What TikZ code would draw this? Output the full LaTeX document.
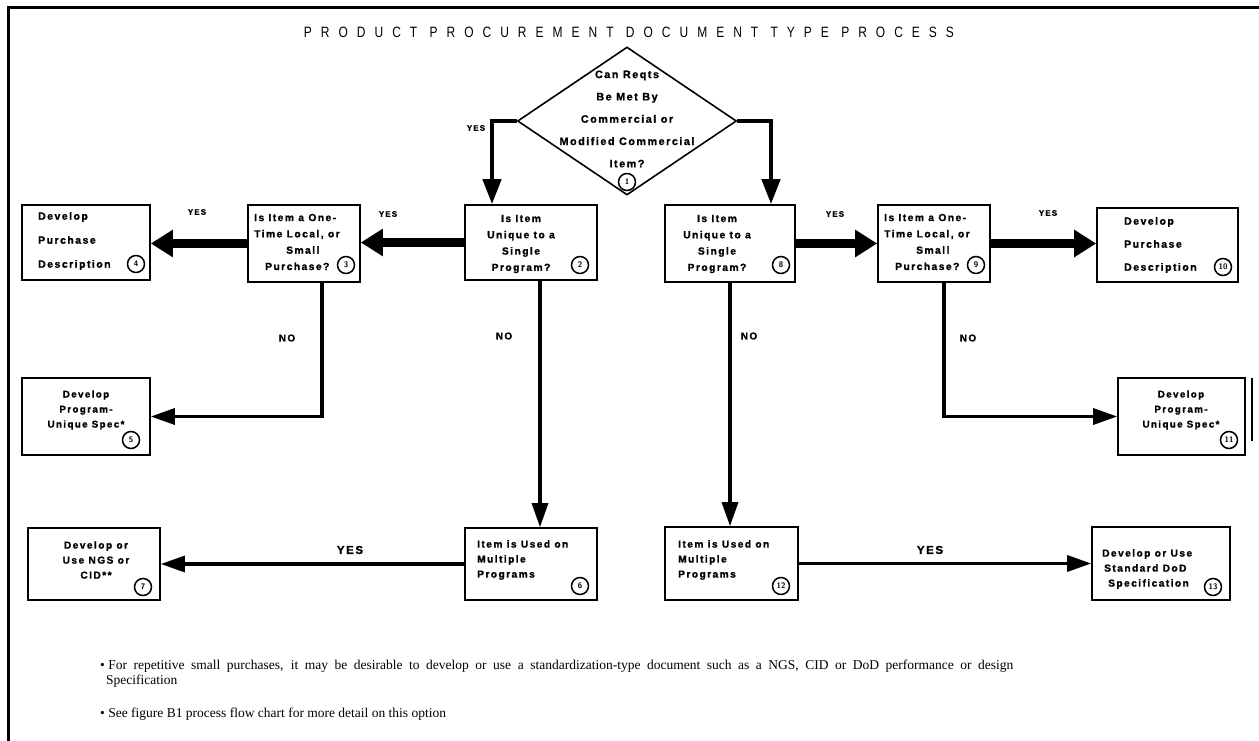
\documentclass[tikz,border=0pt]{standalone}
\usepackage{fontspec}
\setmainfont{Liberation Serif}
\newfontfamily\titlefont[LetterSpace=60,FakeStretch=0.8]{Liberation Sans}
\newfontfamily\boxfont[LetterSpace=14,BoldFeatures={FakeBold=1.2}]{Liberation Sans}
\usetikzlibrary{arrows.meta,shapes.geometric,calc}
\tikzset{
  box/.style={draw, line width=1.6pt, rectangle, inner sep=0pt},
  btext/.style={inner sep=0pt, font=\boxfont\bfseries\fontsize{10.3}{16.3}\selectfont},
  num/.style={draw, circle, line width=1.5pt, minimum size=17pt, inner sep=0pt, font=\sffamily\bfseries\fontsize{8}{8}\selectfont},
  fatarrow/.style={line width=9pt, -{Triangle[length=22pt,width=26pt]}},
  thinarrow/.style={line width=3.2pt, line join=miter, -{Triangle[length=24pt,width=16pt]}},
  darrow/.style={line width=4.5pt, line join=miter, -{Triangle[length=25pt,width=18pt]}},
  smallyes/.style={inner sep=0pt, font=\boxfont\bfseries\fontsize{8}{8}\selectfont},
  bigyes/.style={inner sep=0pt, font=\boxfont\bfseries\fontsize{11.5}{12}\selectfont},
  nolabel/.style={inner sep=0pt, font=\boxfont\bfseries\fontsize{10}{10}\selectfont},
  foot/.style={inner sep=0pt, font=\fontsize{13.5}{15}\selectfont}
}
\begin{document}
\begin{tikzpicture}[x=1pt,y=-1pt]
\useasboundingbox (0,0) rectangle (1259,741);
% frame
\draw[line width=3pt] (8,741) -- (8,8) -- (1259,8);
\draw[line width=2pt] (1252,378) -- (1252,441);
% title
\node[inner sep=0pt, font=\titlefont\fontsize{15}{15}\selectfont] (title) at (629,32) {PRODUCT PROCUREMENT DOCUMENT TYPE PROCESS};
% diamond
\node[diamond, draw, line width=1.6pt, minimum width=219pt, minimum height=148pt, inner sep=0pt] (d) at (627,121) {};
\node[btext, align=center, font=\boxfont\bfseries\fontsize{10.8}{22.3}\selectfont] (dt) at (627,119) {Can Reqts\\Be Met By\\Commercial or\\Modified Commercial\\Item?};
\node[num] (c1) at (627,182) {1};
% boxes
\node[box, minimum width=128pt, minimum height=75pt] (b4) at (86,242.5) {};
\node[box, minimum width=112pt, minimum height=77pt] (b3) at (304,243.5) {};
\node[box, minimum width=132pt, minimum height=75pt] (b2) at (531,242.5) {};
\node[box, minimum width=130pt, minimum height=77pt] (b8) at (730,243.5) {};
\node[box, minimum width=112pt, minimum height=77pt] (b9) at (934,243.5) {};
\node[box, minimum width=141pt, minimum height=74pt] (b10) at (1167.5,245) {};
\node[box, minimum width=128pt, minimum height=77pt] (b5) at (86,416.5) {};
\node[box, minimum width=127pt, minimum height=77pt] (b11) at (1181.5,416.5) {};
\node[box, minimum width=132pt, minimum height=72pt] (b7) at (94,564) {};
\node[box, minimum width=132pt, minimum height=72pt] (b6) at (531,564) {};
\node[box, minimum width=133pt, minimum height=73pt] (b12) at (731.5,563.5) {};
\node[box, minimum width=138pt, minimum height=73pt] (b13) at (1161,563.5) {};
% box texts
\node[btext, align=left, anchor=west, font=\boxfont\bfseries\fontsize{10.5}{24}\selectfont] (t4) at (38,241) {Develop\\Purchase\\Description};
\node[num] (c4) at (136,264) {4};
\node[btext, align=left, anchor=west] (t3) at (254,242) {Is Item a One-\\Time Local, or\\\hspace*{32pt}Small\\\hspace*{11pt}Purchase?};
\node[num] (c3) at (346,265) {3};
\node[btext, align=center] (t2) at (521,244) {Is Item\\Unique to a\\Single\\Program?};
\node[num] (c2) at (580,265) {2};
\node[btext, align=center] (t8) at (717,244) {Is Item\\Unique to a\\Single\\Program?};
\node[num] (c8) at (781,265) {8};
\node[btext, align=left, anchor=west] (t9) at (884,242) {Is Item a One-\\Time Local, or\\\hspace*{32pt}Small\\\hspace*{11pt}Purchase?};
\node[num] (c9) at (976,265) {9};
\node[btext, align=left, anchor=west, font=\boxfont\bfseries\fontsize{10.5}{23}\selectfont] (t10) at (1124,245) {Develop\\Purchase\\Description};
\node[num] (c10) at (1223,267) {10};
\node[btext, align=center, font=\boxfont\bfseries\fontsize{9.8}{15}\selectfont] (t5) at (86,410) {Develop\\Program-\\Unique Spec*};
\node[num] (c5) at (131,440) {5};
\node[btext, align=center, font=\boxfont\bfseries\fontsize{9.8}{15}\selectfont] (t11) at (1181,410) {Develop\\Program-\\Unique Spec*};
\node[num] (c11) at (1229,440) {11};
\node[btext, align=center, font=\boxfont\bfseries\fontsize{10.2}{15}\selectfont] (t7) at (96,560) {Develop or\\Use NGS or\\CID**};
\node[num] (c7) at (143,587) {7};
\node[btext, align=left, anchor=west, font=\boxfont\bfseries\fontsize{10.2}{15}\selectfont] (t6) at (477,560) {Item is Used on\\Multiple\\Programs};
\node[num] (c6) at (580,586) {6};
\node[btext, align=left, anchor=west, font=\boxfont\bfseries\fontsize{10.2}{15}\selectfont] (t12) at (678,560) {Item is Used on\\Multiple\\Programs};
\node[num] (c12) at (781,586) {12};
\node[btext, align=left, anchor=west, font=\boxfont\bfseries\fontsize{10.2}{15}\selectfont] (t13) at (1102,569) {Develop or Use\\\hspace*{2pt}Standard DoD\\\hspace*{6pt}Specification};
\node[num] (c13) at (1213,587) {13};
% connectors
\draw[darrow] (d.west) -| ([xshift=-39pt]b2.north);
\draw[darrow] (d.east) -| ([xshift=41pt]b8.north);
\draw[fatarrow] (b2.west) -- (b2.west -| b3.east);
\draw[fatarrow] (b3.west) -- (b3.west -| b4.east);
\draw[fatarrow] (b8.east) -- (b8.east -| b9.west);
\draw[fatarrow] (b9.east) -- (b9.east -| b10.west);
\draw[thinarrow] ([xshift=18pt]b3.south) |- (b5.east);
\draw[thinarrow] ([xshift=10pt]b9.south) |- (b11.west);
\draw[thinarrow] ([xshift=9pt]b2.south) -- ([xshift=9pt]b6.north);
\draw[thinarrow] (b8.south) -- (b8.south |- b12.north);
\draw[thinarrow] (b6.west) -- (b6.west -| b7.east);
\draw[thinarrow] (b12.east) -- (b12.east -| b13.west);
% labels
\node[smallyes] (y0) at (476,128) {YES};
\node[smallyes] (y1) at (197,212) {YES};
\node[smallyes] (y2) at (388,214) {YES};
\node[smallyes] (y3) at (835,214) {YES};
\node[smallyes] (y4) at (1048,213) {YES};
\node[bigyes] (y5) at (350,550) {YES};
\node[bigyes] (y6) at (930,550) {YES};
\node[nolabel] (n1) at (287,338) {NO};
\node[nolabel] (n2) at (504,336) {NO};
\node[nolabel] (n3) at (749,336) {NO};
\node[nolabel] (n4) at (968,338) {NO};
% footnotes
\node[foot, anchor=base west] (f1) at (100,669) {\textbullet\ \makebox[905pt][s]{For repetitive small purchases, it may be desirable to develop or use a standardization-type document such as a NGS, CID or DoD performance or design}};
\node[foot, anchor=base west] (f1b) at (106,684) {Specification};
\node[foot, anchor=base west] (f2) at (100,717) {\textbullet\ See figure B1 process flow chart for more detail on this option};
\end{tikzpicture}
\end{document}
